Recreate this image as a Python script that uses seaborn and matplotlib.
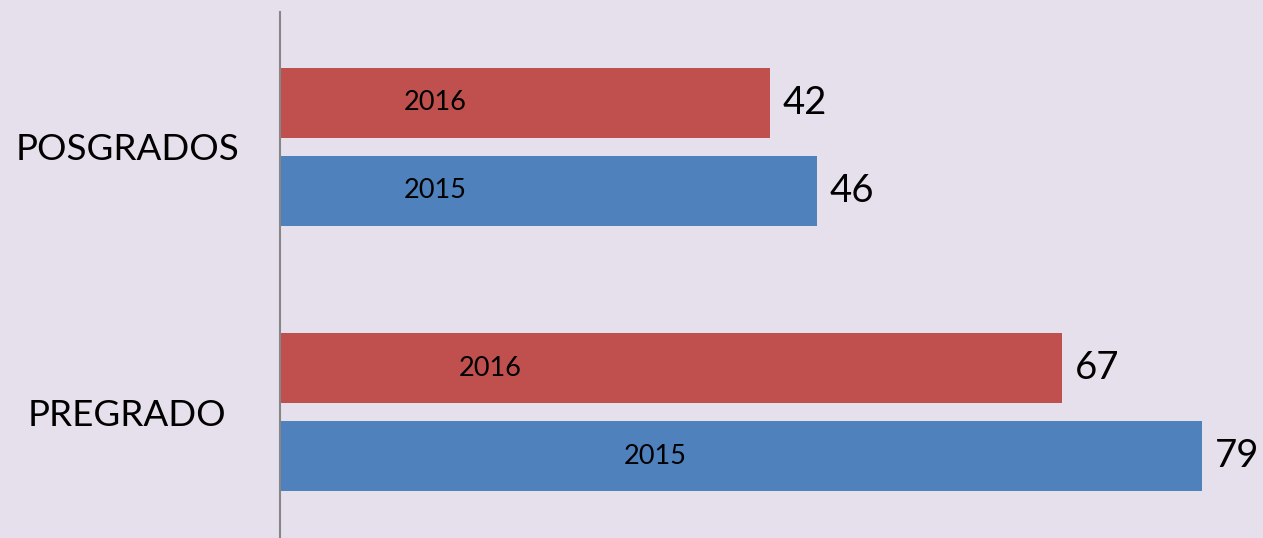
import matplotlib
matplotlib.use('Agg')
import matplotlib.pyplot as plt
import seaborn as sns
import pandas as pd

# Datos
niveles = ['POSGRADOS', 'POSGRADOS', 'PREGRADO', 'PREGRADO']
anios = ['2016', '2015', '2016', '2015']
valores = [42, 46, 67, 79]

# Posición (en unidades del eje x) de la etiqueta del año dentro de cada barra
pos_etiqueta_anio = {('POSGRADOS', '2016'): 13.3, ('POSGRADOS', '2015'): 13.3,
                     ('PREGRADO', '2016'): 18.0, ('PREGRADO', '2015'): 32.1}

colores = {'2016': '#C0504D', '2015': '#4F81BD'}
fondo = '#E6E0EC'


def preparar_datos():
    '''Monta el DataFrame a partir de las listas'''
    return pd.DataFrame({'nivel': niveles, 'anio': anios, 'valor': valores})


def dibujar(df):
    sns.set_style('white')
    plt.rcParams['font.family'] = ['Lato', 'DejaVu Sans']
    plt.rcParams['text.color'] = 'black'
    plt.rcParams['ytick.color'] = 'black'

    fig = plt.figure(figsize=(12.63, 5.38), dpi=100)
    fig.patch.set_facecolor(fondo)
    ax = fig.add_axes([280 / 1263, 0, 983 / 1263, 526 / 538])
    ax.set_facecolor(fondo)

    sns.barplot(data=df, y='nivel', x='valor', hue='anio',
                order=['POSGRADOS', 'PREGRADO'], hue_order=['2016', '2015'],
                palette=colores, orient='h', width=0.664, gap=0.2,
                saturation=1, legend=False, linewidth=0, ax=ax)

    ax.set_xlim(0, 84.2)
    ax.set_ylim(1.475, -0.509)

    # Valores al final de cada barra
    for cont in ax.containers:
        ax.bar_label(cont, fmt='%g', padding=9, fontsize=27.5, color='black')

    # Año dentro de cada barra
    orden = ['POSGRADOS', 'PREGRADO']
    for cont, anio in zip(ax.containers, ['2016', '2015']):
        for barra, nivel in zip(cont, orden):
            y = barra.get_y() + barra.get_height() / 2
            ax.text(pos_etiqueta_anio[(nivel, anio)], y, anio,
                    ha='center', va='center', fontsize=19.5, color='black')

    ax.set_xlabel('')
    ax.set_ylabel('')
    ax.set_xticks([])
    ax.tick_params(axis='y', length=0, pad=110, labelsize=26.5,
                   labelcolor='black')
    for lab in ax.get_yticklabels():
        lab.set_horizontalalignment('center')

    for lado in ['top', 'right', 'bottom']:
        ax.spines[lado].set_visible(False)
    ax.spines['left'].set_color('#868686')
    ax.spines['left'].set_linewidth(1.5)

    fig.savefig('out.png', dpi=100, facecolor=fondo)


if __name__ == '__main__':
    df = preparar_datos()
    dibujar(df)
